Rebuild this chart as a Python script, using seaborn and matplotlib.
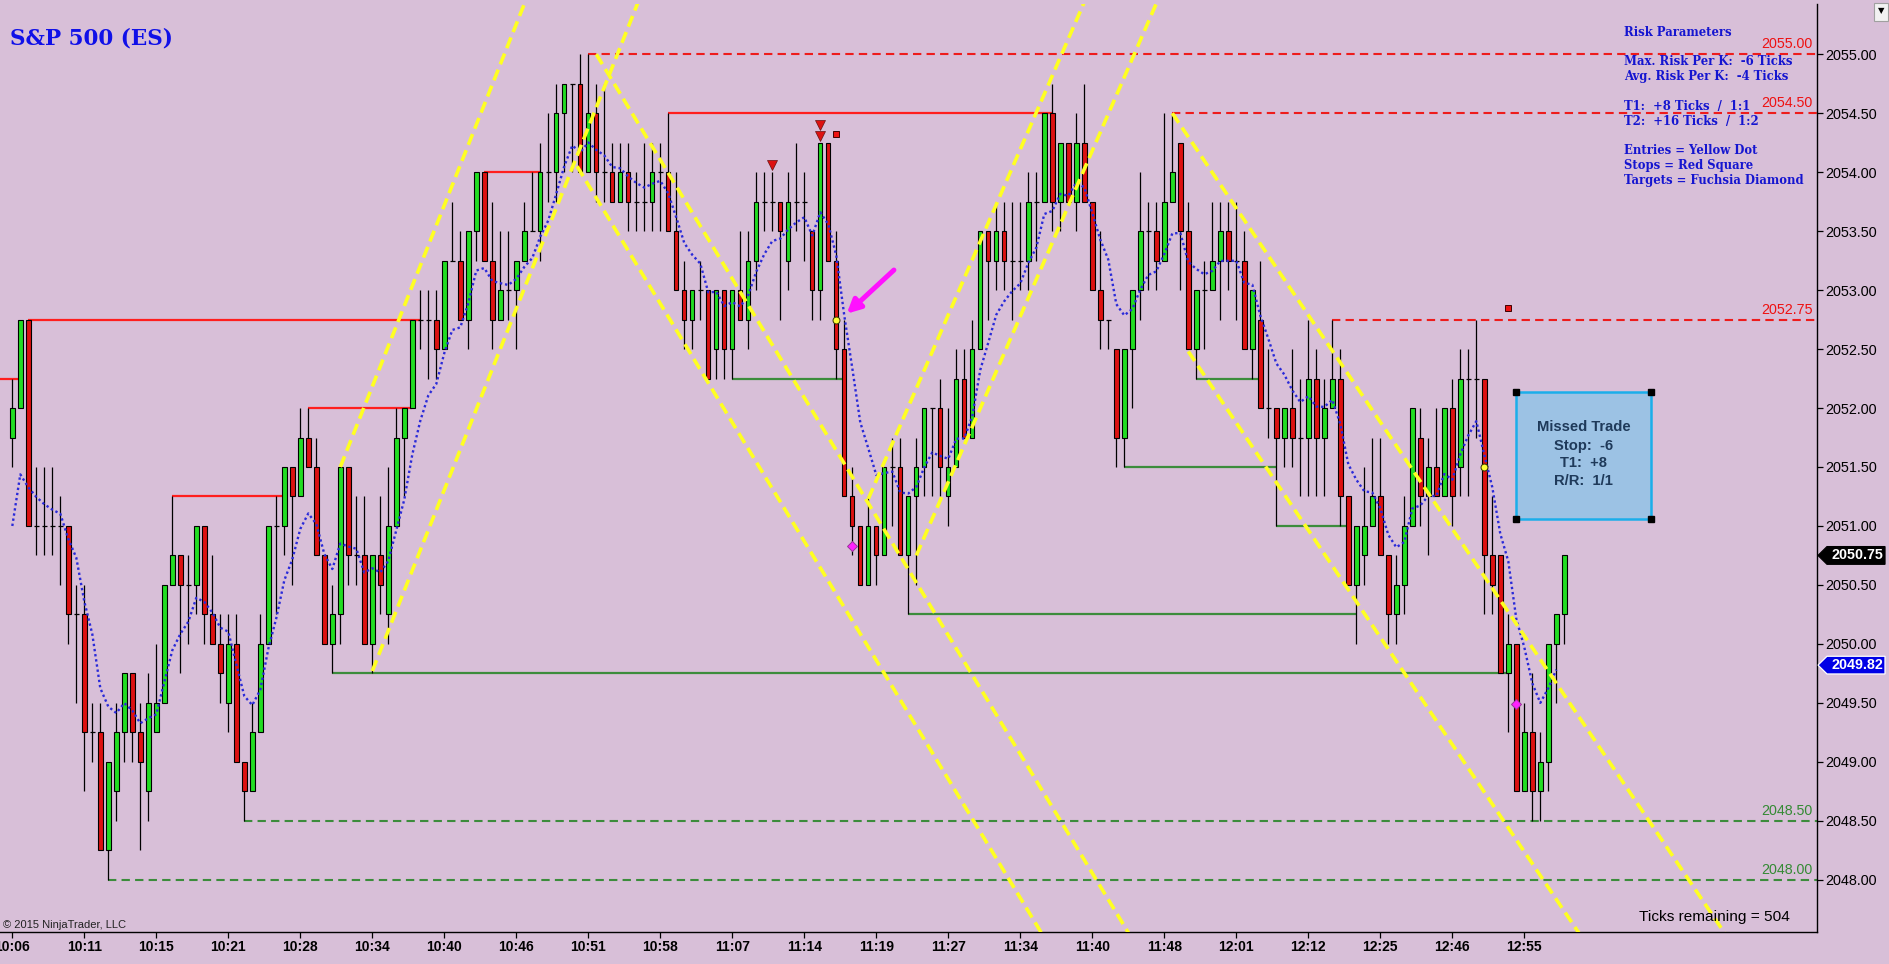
import numpy as np
import pandas as pd
import matplotlib
matplotlib.use("Agg")
import matplotlib.pyplot as plt
import seaborn as sns
from matplotlib.patches import Rectangle, Polygon
from matplotlib.transforms import blended_transform_factory

# ---------------- data ----------------
opens = [
    2051.75, 2052.0, 2052.75, 2051.0, 2051.0, 2051.0, 2051.0, 2051.0, 2050.25, 2050.25,
    2049.25, 2049.25, 2048.25, 2048.75, 2049.25, 2049.75, 2049.25, 2048.75, 2049.25, 2049.5,
    2050.5, 2050.75, 2050.5, 2050.5, 2051.0, 2050.25, 2050.0, 2049.5, 2050.0, 2049.0,
    2048.75, 2049.25, 2050.0, 2051.0, 2051.0, 2051.5, 2051.25, 2051.75, 2051.5, 2050.75,
    2050.0, 2050.25, 2051.5, 2050.75, 2050.75, 2050.0, 2050.75, 2050.25, 2051.0, 2051.75,
    2052.0, 2052.75, 2052.75, 2052.75, 2052.5, 2053.25, 2053.25, 2052.75, 2053.5, 2054.0,
    2053.25, 2052.75, 2053.0, 2053.0, 2053.25, 2053.5, 2053.5, 2054.0, 2054.0, 2054.5,
    2054.75, 2054.75, 2054.0, 2054.5, 2054.0, 2054.0, 2053.75, 2054.0, 2053.75, 2053.75,
    2053.75, 2054.0, 2054.0, 2053.5, 2053.0, 2052.75, 2053.0, 2053.0, 2052.5, 2053.0,
    2052.5, 2053.0, 2052.75, 2053.25, 2053.75, 2053.75, 2053.75, 2053.25, 2053.75, 2053.75,
    2053.5, 2053.0, 2054.25, 2053.25, 2052.5, 2051.25, 2051.0, 2050.5, 2051.0, 2050.75,
    2051.5, 2051.5, 2050.75, 2051.25, 2051.5, 2052.0, 2052.0, 2051.25, 2051.5, 2052.25,
    2051.75, 2052.5, 2053.5, 2053.25, 2053.5, 2053.25, 2053.25, 2053.25, 2053.75, 2053.75,
    2054.5, 2053.75, 2054.25, 2053.75, 2054.25, 2053.75, 2053.0, 2052.75, 2052.5, 2051.75,
    2052.5, 2053.0, 2053.5, 2053.5, 2053.25, 2053.75, 2054.25, 2053.5, 2052.5, 2053.0,
    2053.0, 2053.25, 2053.5, 2053.25, 2053.25, 2052.5, 2052.75, 2052.0, 2052.0, 2051.75,
    2052.0, 2051.75, 2051.75, 2052.25, 2051.75, 2052.0, 2052.25, 2051.25, 2050.5, 2050.75,
    2051.0, 2051.25, 2050.75, 2050.25, 2050.5, 2051.0, 2051.75, 2051.25, 2051.5, 2051.25,
    2052.0, 2051.5, 2052.25, 2052.25, 2052.25, 2050.75, 2050.75, 2049.75, 2050.0, 2048.75,
    2049.25, 2048.75, 2049.0, 2050.0, 2050.25,
]
highs = [
    2052.25, 2052.75, 2052.75, 2051.5, 2051.5, 2051.5, 2051.25, 2051.0, 2050.5, 2050.5,
    2049.5, 2049.5, 2049.0, 2049.5, 2049.75, 2049.75, 2049.5, 2049.75, 2050.0, 2050.5,
    2051.25, 2050.75, 2050.75, 2051.0, 2051.0, 2050.75, 2050.25, 2050.25, 2050.25, 2049.0,
    2049.5, 2050.25, 2051.0, 2051.25, 2051.5, 2051.5, 2052.0, 2052.0, 2051.75, 2050.75,
    2050.5, 2051.5, 2051.5, 2051.25, 2051.25, 2050.75, 2051.25, 2051.5, 2052.0, 2052.0,
    2052.75, 2053.0, 2053.0, 2053.0, 2053.25, 2053.75, 2053.5, 2053.5, 2054.0, 2054.0,
    2053.75, 2053.5, 2053.5, 2053.25, 2053.75, 2054.0, 2054.25, 2054.5, 2054.75, 2054.75,
    2054.75, 2055.0, 2055.0, 2054.75, 2054.75, 2054.25, 2054.25, 2054.25, 2054.0, 2054.25,
    2054.25, 2054.25, 2054.5, 2054.0, 2053.25, 2053.0, 2053.25, 2053.0, 2053.0, 2053.0,
    2053.0, 2053.5, 2053.5, 2054.0, 2054.0, 2054.0, 2053.75, 2054.0, 2054.25, 2054.0,
    2053.5, 2054.25, 2054.25, 2053.5, 2052.75, 2051.5, 2051.0, 2051.25, 2051.0, 2051.5,
    2051.75, 2051.75, 2051.25, 2051.75, 2052.0, 2052.0, 2052.25, 2052.0, 2052.5, 2052.5,
    2052.75, 2053.5, 2053.5, 2053.75, 2053.75, 2053.75, 2053.75, 2054.0, 2054.0, 2054.5,
    2054.75, 2054.25, 2054.25, 2054.5, 2054.75, 2053.75, 2053.5, 2052.75, 2052.5, 2052.5,
    2053.0, 2054.0, 2053.75, 2053.75, 2054.5, 2054.5, 2054.25, 2053.75, 2053.0, 2053.25,
    2053.75, 2053.75, 2053.75, 2053.75, 2053.5, 2053.0, 2053.25, 2052.5, 2052.0, 2052.0,
    2052.5, 2052.25, 2052.75, 2052.5, 2052.25, 2052.75, 2052.5, 2051.25, 2051.0, 2051.5,
    2051.75, 2051.75, 2050.75, 2050.75, 2051.25, 2052.0, 2052.0, 2051.75, 2052.0, 2052.0,
    2052.25, 2052.5, 2052.5, 2052.75, 2052.25, 2051.25, 2050.75, 2050.25, 2050.0, 2049.5,
    2049.75, 2049.25, 2050.0, 2050.25, 2050.75,
]
lows = [
    2051.5, 2052.0, 2051.0, 2050.75, 2050.75, 2050.75, 2050.5, 2050.0, 2049.5, 2048.75,
    2049.0, 2048.25, 2048.0, 2048.5, 2049.0, 2049.0, 2048.25, 2048.5, 2049.25, 2049.5,
    2050.5, 2049.75, 2050.0, 2050.25, 2050.0, 2050.0, 2049.5, 2049.25, 2049.0, 2048.5,
    2048.75, 2049.25, 2050.0, 2050.25, 2050.75, 2050.5, 2051.25, 2051.5, 2050.75, 2050.0,
    2049.75, 2050.0, 2050.5, 2050.5, 2050.0, 2049.75, 2050.25, 2050.0, 2051.0, 2051.25,
    2052.0, 2052.5, 2052.25, 2052.25, 2052.5, 2053.25, 2052.75, 2052.5, 2053.25, 2053.25,
    2052.5, 2052.75, 2052.75, 2052.5, 2053.25, 2053.5, 2053.25, 2053.75, 2053.75, 2054.0,
    2054.0, 2054.0, 2054.0, 2053.75, 2053.75, 2053.75, 2053.75, 2053.5, 2053.5, 2053.5,
    2053.5, 2053.5, 2053.5, 2053.0, 2052.5, 2052.5, 2052.75, 2052.25, 2052.25, 2052.25,
    2052.25, 2052.75, 2052.5, 2053.0, 2053.5, 2053.5, 2052.75, 2053.0, 2053.5, 2053.25,
    2052.75, 2052.75, 2053.25, 2052.25, 2051.25, 2050.75, 2050.5, 2050.5, 2050.5, 2050.75,
    2051.0, 2050.75, 2050.25, 2050.5, 2051.25, 2051.25, 2051.25, 2051.0, 2051.5, 2051.75,
    2051.75, 2052.5, 2052.75, 2053.0, 2053.0, 2052.75, 2053.0, 2053.0, 2053.25, 2053.75,
    2053.5, 2053.5, 2053.75, 2053.5, 2053.75, 2053.0, 2052.5, 2052.5, 2051.5, 2051.5,
    2052.0, 2052.75, 2053.0, 2053.0, 2053.25, 2053.75, 2053.0, 2052.5, 2052.25, 2052.5,
    2053.0, 2052.75, 2053.0, 2052.75, 2052.5, 2052.25, 2052.0, 2051.75, 2051.0, 2051.5,
    2051.5, 2051.25, 2051.25, 2051.25, 2051.25, 2052.0, 2051.0, 2050.5, 2050.0, 2050.5,
    2051.0, 2050.75, 2050.0, 2050.0, 2050.25, 2051.0, 2051.0, 2050.75, 2051.25, 2051.25,
    2051.0, 2051.25, 2051.25, 2051.75, 2050.25, 2050.25, 2049.75, 2049.25, 2048.75, 2048.75,
    2048.5, 2048.5, 2048.75, 2049.5, 2050.0,
]
closes = [
    2052.0, 2052.75, 2051.0, 2051.0, 2051.0, 2051.0, 2051.0, 2050.25, 2050.25, 2049.25,
    2049.25, 2048.25, 2049.0, 2049.25, 2049.75, 2049.25, 2049.0, 2049.5, 2049.5, 2050.5,
    2050.75, 2050.5, 2050.5, 2051.0, 2050.25, 2050.0, 2049.75, 2050.0, 2049.0, 2048.75,
    2049.25, 2050.0, 2051.0, 2051.0, 2051.5, 2051.25, 2051.75, 2051.5, 2050.75, 2050.0,
    2050.25, 2051.5, 2050.75, 2050.75, 2050.0, 2050.75, 2050.5, 2051.0, 2051.75, 2052.0,
    2052.75, 2052.75, 2052.75, 2052.5, 2053.25, 2053.25, 2052.75, 2053.5, 2054.0, 2053.25,
    2052.75, 2053.0, 2053.0, 2053.25, 2053.5, 2053.5, 2054.0, 2054.0, 2054.5, 2054.75,
    2054.75, 2054.0, 2054.5, 2054.0, 2054.0, 2053.75, 2054.0, 2053.75, 2053.75, 2053.75,
    2054.0, 2054.0, 2053.5, 2053.0, 2052.75, 2053.0, 2053.0, 2052.25, 2053.0, 2052.5,
    2053.0, 2052.75, 2053.25, 2053.75, 2053.75, 2053.75, 2053.5, 2053.75, 2053.75, 2053.75,
    2053.0, 2054.25, 2053.25, 2052.5, 2051.25, 2051.0, 2050.5, 2051.0, 2050.75, 2051.5,
    2051.5, 2050.75, 2051.25, 2051.5, 2052.0, 2052.0, 2051.5, 2051.5, 2052.25, 2051.75,
    2052.5, 2053.5, 2053.25, 2053.5, 2053.25, 2053.25, 2053.25, 2053.75, 2053.75, 2054.5,
    2053.75, 2054.25, 2053.75, 2054.25, 2053.75, 2053.0, 2052.75, 2052.75, 2051.75, 2052.5,
    2053.0, 2053.5, 2053.5, 2053.25, 2053.75, 2054.0, 2053.5, 2052.5, 2053.0, 2053.0,
    2053.25, 2053.5, 2053.25, 2053.25, 2052.5, 2053.0, 2052.0, 2052.0, 2051.75, 2052.0,
    2051.75, 2051.75, 2052.25, 2051.75, 2052.0, 2052.25, 2051.25, 2050.5, 2051.0, 2051.0,
    2051.25, 2050.75, 2050.25, 2050.5, 2051.0, 2052.0, 2051.25, 2051.5, 2051.25, 2052.0,
    2051.25, 2052.25, 2052.25, 2052.25, 2050.75, 2050.5, 2049.75, 2050.0, 2048.75, 2049.25,
    2048.75, 2049.0, 2050.0, 2050.25, 2050.75,
]

time_labels = ["10:06", "10:11", "10:15", "10:21", "10:28", "10:34", "10:40", "10:46",
               "10:51", "10:58", "11:07", "11:14", "11:19", "11:27", "11:34", "11:40",
               "11:48", "12:01", "12:12", "12:25", "12:46", "12:55"]
time_label_step = 9

price_ticks = [2048.0, 2048.5, 2049.0, 2049.5, 2050.0, 2050.5, 2051.0,
               2051.5, 2052.0, 2052.5, 2053.0, 2053.5, 2054.0, 2054.5, 2055.0]

# moving average (EMA) settings
ma_alpha = 0.25
ma_seed = 2051.0
ma_last_value = 2049.82

# horizontal swing lines: (start bar, end bar, price)
red_solid = [(-1.6, 1, 2052.25), (2, 51, 2052.75), (20, 34, 2051.25),
             (37, 50, 2052.0), (59, 66, 2054.0), (82, 130, 2054.5)]
green_solid = [(40, 187, 2049.75), (90, 104, 2052.25), (112, 168, 2050.25),
               (139, 158, 2051.5), (158, 167, 2051.0), (148, 156, 2052.25)]
red_dashed = [(72, 2055.0), (145, 2054.5), (165, 2052.75)]
green_dashed = [(29, 2048.5), (12, 2048.0)]

# channel lines: (start bar, start price, slope per bar)
channels = [(41, 2051.5, 0.1707), (45, 2049.77, 0.1707),
            (73, 2055.0, -0.112), (70.6, 2054.05, -0.112),
            (107, 2051.23, 0.156), (113, 2050.75, 0.156),
            (145, 2054.5, -0.1007), (147, 2052.48, -0.101)]

entries = [(103, 2052.75), (184, 2051.5)]
stops = [(103, 2054.32), (187, 2052.85)]
targets = [(105, 2050.83), (188, 2049.49)]
triangles = [(95, 2054.06), (101, 2054.40), (101, 2054.31)]
arrow_tail = (110.2, 2053.17)
arrow_tip = (104.3, 2052.80)

box_x = (188.0, 204.8)
box_y = (2051.06, 2052.14)
box_lines = ["Missed Trade", "Stop:  -6", "T1:  +8", "R/R:  1/1"]
box_line_prices = [2051.84, 2051.68, 2051.53, 2051.38]

legend_lines = ["Risk Parameters", "", "Max. Risk Per K:  -6 Ticks",
                "Avg. Risk Per K:  -4 Ticks", "", "T1:  +8 Ticks  /  1:1",
                "T2:  +16 Ticks  /  1:2", "", "Entries = Yellow Dot",
                "Stops = Red Square", "Targets = Fuchsia Diamond"]

# ---------------- style ----------------
sns.set_theme(style="white")
plt.rcParams["font.family"] = ["Liberation Sans", "DejaVu Sans"]
BG = "#D8BFD8"
GREEN_C = "#22DD22"
RED_C = "#DD1111"

W, H = 1889, 964
fig = plt.figure(figsize=(W / 100, H / 100), dpi=100, facecolor=BG)
ax_right_px, ax_top_px, ax_bot_px = 1816.7, 4, 932
ax = fig.add_axes([0, (H - ax_bot_px) / H, ax_right_px / W, (ax_bot_px - ax_top_px) / H])
ax.set_facecolor(BG)

n = len(closes)
idx = np.arange(n)
df = pd.DataFrame({"i": idx, "o": opens, "h": highs, "l": lows, "c": closes})

ax.set_xlim(-1.5375, 225.55)
ax.set_ylim(2047.557, 2055.426)

# horizontal lines
for x0, x1, p in red_solid:
    ax.hlines(p, x0, x1, color="#FF1E1E", lw=1.6, zorder=2)
for x0, x1, p in green_solid:
    ax.hlines(p, x0, x1, color="#3C8C3C", lw=1.6, zorder=2)
for x0, p in red_dashed:
    ax.hlines(p, x0, 226, color="#EE1C1C", lw=1.5, linestyles=(0, (4, 2.5)), zorder=2)
    ax.text(225.0, p + 0.025, f"{p:.2f}", color="#EE1111", fontsize=10.3,
            ha="right", va="bottom", zorder=6)
for x0, p in green_dashed:
    ax.hlines(p, x0, 226, color="#3C8C3C", lw=1.5, linestyles=(0, (4, 2.5)), zorder=2)
    ax.text(225.0, p + 0.025, f"{p:.2f}", color="#348A34", fontsize=10.3,
            ha="right", va="bottom", zorder=6)

# candles
ax.vlines(df["i"], df["l"], df["h"], color="black", lw=0.9, zorder=3)
body = df[df["o"] != df["c"]]
colors = np.where(body["c"] > body["o"], GREEN_C, RED_C)
ax.bar(body["i"], (body["c"] - body["o"]).abs(), bottom=np.minimum(body["o"], body["c"]),
       width=0.55, color=colors, edgecolor="black", linewidth=0.8, zorder=4)
doji = df[df["o"] == df["c"]]
ax.hlines(doji["o"], doji["i"] - 0.3, doji["i"] + 0.3, color="black", lw=0.9, zorder=4)

# moving average (EMA of closes, drawn on completed bars)
ma = [ma_seed]
for c in closes[1:n - 1]:
    ma.append(ma[-1] + ma_alpha * (c - ma[-1]))
ma_df = pd.DataFrame({"i": idx[:n - 1], "ma": ma})
sns.lineplot(data=ma_df, x="i", y="ma", ax=ax, color="#2A2AD8", lw=1.7,
             linestyle=(0, (1, 1.2)), zorder=5, legend=False)

# channels
for x0, p0, s in channels:
    xs = np.array([x0, x0 + 120])
    ax.plot(xs, p0 + s * (xs - x0), color="#FFFF22", lw=2.6,
            linestyle=(0, (3.2, 1.6)), zorder=6, solid_capstyle="butt")

# markers
for x, p in triangles:
    ax.plot(x, p, marker="v", ms=7, color="#DD1111", mec="#661111", mew=0.5, zorder=7)
for x, p in stops:
    ax.plot(x, p, marker="s", ms=5, color="#EE1111", mec="#400000", mew=0.7, zorder=7)
for x, p in entries:
    ax.plot(x, p, marker="o", ms=5, color="#FFFF33", mec="#333300", mew=0.7, zorder=7)
for x, p in targets:
    ax.plot(x, p, marker="D", ms=5.5, color="#FF22FF", mec="#993399", mew=0.7, zorder=7)
ax.annotate("", xy=arrow_tip, xytext=arrow_tail,
            arrowprops=dict(arrowstyle="-|>", color="#FF11FF", lw=3.6,
                            mutation_scale=20, shrinkA=0, shrinkB=0), zorder=7)

# missed trade box
ax.add_patch(Rectangle((box_x[0], box_y[0]), box_x[1] - box_x[0], box_y[1] - box_y[0],
                       facecolor="#9CC2E4", edgecolor="#1BAEEA", lw=1.8, zorder=8))
for bx in box_x:
    for by in box_y:
        ax.plot(bx, by, marker="s", ms=4.5, color="black", zorder=9)
for t, p in zip(box_lines, box_line_prices):
    ax.text(sum(box_x) / 2, p, t, ha="center", va="center", fontsize=10.6,
            fontweight="bold", color="#1F3A5A", zorder=9)

# axes styling
for side in ["left", "top"]:
    ax.spines[side].set_visible(False)
for side in ["right", "bottom"]:
    ax.spines[side].set_color("black")
    ax.spines[side].set_linewidth(1.0)
ax.yaxis.tick_right()
ax.set_yticks(price_ticks)
ax.set_yticklabels([f"{p:.2f}" for p in price_ticks])
ax.tick_params(axis="y", direction="out", length=4.5, width=0.9, colors="black",
               labelsize=10.4, pad=1.5, right=True, left=False)
tick_pos = [k * time_label_step for k in range(len(time_labels))]
ax.set_xticks(tick_pos)
ax.set_xticklabels(time_labels, fontweight="bold")
ax.tick_params(axis="x", direction="out", length=4.5, width=0.9, colors="black",
               labelsize=10, pad=1.5, bottom=True)
ax.set_xlabel("")
ax.set_ylabel("")
ax.grid(False)

# price tags at right axis
tr = blended_transform_factory(fig.transFigure, ax.transData)
def price_tag(p, txt, face, edge):
    x0, x1, x2, h = 1818 / W, 1827 / W, 1885 / W, 0.075
    ax.add_patch(Polygon([(x0, p), (x1, p + h), (x2, p + h), (x2, p - h), (x1, p - h)],
                         closed=True, transform=tr, clip_on=False, facecolor=face,
                         edgecolor=edge, lw=0.9, zorder=10))
    ax.text((x1 + x2) / 2 + 0.0005, p, txt, transform=tr, clip_on=False, color="white",
            fontsize=10.3, fontweight="bold", ha="center", va="center", zorder=11)
price_tag(closes[-1], f"{closes[-1]:.2f}", "black", "black")
price_tag(ma_last_value, f"{ma_last_value:.2f}", "#0000E6", "white")

# texts
fig.text(10 / W, 1 - 38 / H, "S&P 500 (ES)", family=["DejaVu Serif"], fontweight="bold",
         fontsize=15.5, color="#1010E8", va="center", ha="left")
for k, line in enumerate(legend_lines):
    if line:
        fig.text(1624 / W, 1 - (32.3 + k * 14.8) / H, line, family=["DejaVu Serif"],
                 fontweight="bold", fontsize=8.35, color="#1515D0", va="center", ha="left")
fig.text(3 / W, 1 - 925.5 / H, "\u00a9 2015 NinjaTrader, LLC", fontsize=8.0,
         color="#222222", va="center", ha="left")
fig.text(1639 / W, 1 - 916.7 / H, "Ticks remaining = 504", fontsize=11.1,
         color="black", va="center", ha="left", zorder=12)

# dropdown box top-right
fig.patches.append(Rectangle((1874 / W, 1 - 21 / H), 14 / W, 18 / H, transform=fig.transFigure,
                             facecolor="#F2F2F2", edgecolor="#A0A0A0", lw=0.8))
fig.text(1881 / W, 1 - 11 / H, "\u25bc", fontsize=6, ha="center", va="center",
         family=["DejaVu Sans"], color="black")

fig.savefig("out.png", dpi=100, facecolor=BG)
